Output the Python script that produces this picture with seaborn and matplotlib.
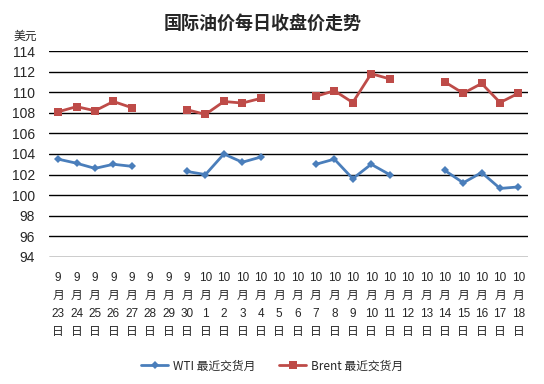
import numpy as np
import pandas as pd
import matplotlib
matplotlib.use("Agg")
import matplotlib.pyplot as plt
import seaborn as sns
from matplotlib.lines import Line2D

months = [9]*8 + [10]*18
days = [23, 24, 25, 26, 27, 28, 29, 30] + list(range(1, 19))
nan = np.nan
wti = [103.5, 103.1, 102.6, 103.0, 102.8, nan, nan, 102.3,
       102.0, 104.0, 103.2, 103.7, nan, nan, 103.0, 103.5, 101.6, 103.0, 102.0,
       nan, nan, 102.4, 101.2, 102.2, 100.65, 100.8]
brent = [108.1, 108.6, 108.2, 109.1, 108.5, nan, nan, 108.3,
         107.85, 109.1, 108.95, 109.4, nan, nan, 109.6, 110.15, 109.0, 111.8, 111.3,
         nan, nan, 111.0, 109.9, 110.85, 109.0, 109.9]
series_names = ["WTI 最近交货月", "Brent 最近交货月"]
yticks = list(range(94, 115, 2))
title = "国际油价每日收盘价走势"
ylabel = "美元"

labels = [f"{m}\n月\n{d}\n日" for m, d in zip(months, days)]

rows = []
for name, vals in zip(series_names, [wti, brent]):
    seg = 0
    prev_nan = False
    for i, v in enumerate(vals):
        if np.isnan(v):
            prev_nan = True
            continue
        if prev_nan:
            seg += 1
        prev_nan = False
        rows.append({"pos": i, "value": v, "series": name, "seg": seg})
df = pd.DataFrame(rows)

sns.set_theme(style="white")
plt.rcParams['font.family'] = ['Liberation Sans', 'Noto Sans CJK SC', 'DejaVu Sans']

colors = {series_names[0]: "#4A7EBB", series_names[1]: "#BE4B48"}
markers = {series_names[0]: "D", series_names[1]: "s"}

fig = plt.figure(figsize=(5.44, 3.84), dpi=100)
ax = fig.add_axes([0.09, 0.331, 0.88, 0.536])

sns.lineplot(data=df, x="pos", y="value", hue="series", style="series",
             units="seg", estimator=None, palette=colors, markers=markers,
             dashes=False, linewidth=2, markersize=5, markeredgewidth=0,
             legend=False, ax=ax)
for line in ax.lines:
    if line.get_marker() == "s":
        line.set_markersize(6)
    else:
        line.set_markersize(4.5)

ax.set_xlim(-0.5, len(labels) - 0.5)
ax.set_ylim(94, 114)
ax.set_yticks(yticks)
ax.set_yticklabels([str(t) for t in yticks], fontsize=10)
ax.set_xticks(range(len(labels)))
ax.set_xticklabels(labels, fontsize=8.5, linespacing=1.65,
                   family=['Liberation Sans', 'Noto Sans CJK SC'])
ax.tick_params(axis='y', length=0, pad=10)
ax.tick_params(axis='x', length=0, pad=11)
ax.grid(axis='y', color='black', linewidth=1)
ax.grid(axis='x', visible=False)
for s in ax.spines.values():
    s.set_visible(False)
ax.set_xlabel("")
ax.set_ylabel("")

fig.text(0.482, 0.94, title, ha='center', va='center', fontsize=13,
         fontweight='bold', family=['Noto Sans CJK SC'])
fig.text(0.047, 0.905, ylabel, ha='center', va='center', fontsize=8.5,
         family=['Noto Sans CJK SC'])

handles = [Line2D([0], [0], color=colors[n], marker=markers[n], linewidth=2,
                  markersize=4.5 if markers[n] == "D" else 6, markeredgewidth=0)
           for n in series_names]
fig.legend(handles, series_names, loc='center', bbox_to_anchor=(0.5, 0.047),
           ncol=2, frameon=False, handlelength=2.3,
           columnspacing=2.0, handletextpad=0.4,
           prop={'family': ['Noto Sans CJK SC'], 'size': 8.5})

fig.savefig("out.png", dpi=100, facecolor="white")
